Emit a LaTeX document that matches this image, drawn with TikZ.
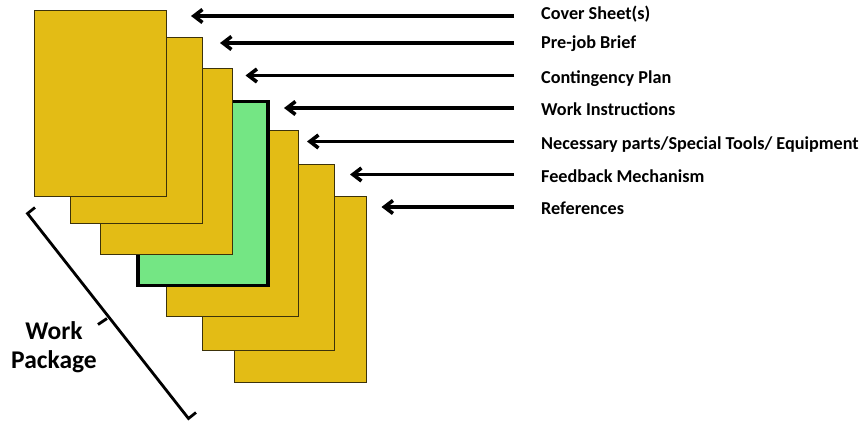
\documentclass[tikz,border=0pt]{standalone}
\usepackage{fontspec}
\setmainfont{Carlito}
\usetikzlibrary{arrows.meta,calc}
\definecolor{pageyellow}{RGB}{227,188,21}
\definecolor{pagegreen}{RGB}{116,230,132}
\definecolor{pageedge}{RGB}{60,50,10}
\tikzset{
  page/.style={draw=pageedge, line width=1.2pt, fill=pageyellow, minimum width=132pt, minimum height=186pt, inner sep=0pt, anchor=north west},
  greenpage/.style={page, draw=black, line width=3.5pt, fill=pagegreen, minimum width=130pt, minimum height=184pt},
  lbl/.style={font=\bfseries\fontsize{18.2pt}{21pt}\selectfont, anchor=base west, inner sep=0pt},
  pointer/.style={line width=3.6pt, -{Straight Barb[length=8.5pt,width=13pt]}},
  brace/.style={line width=2.8pt}
}
\begin{document}
\begin{tikzpicture}[x=1pt,y=-1pt]
\useasboundingbox (0,0) rectangle (865,423);
% pages, back to front
\node[page] (p7) at (234,196) {};
\node[page] (p6) at (201.5,163.5) {};
\node[page] (p5) at (166,130) {};
\node[greenpage] (p4) at (136,99.5) {};
\node[page] (p3) at (100,68) {};
\node[page] (p2) at (69.5,37) {};
\node[page] (p1) at (33.5,9.5) {};
% labels
\node[lbl] (l1) at (541,19.3) {Cover Sheet(s)};
\node[lbl] (l2) at (541,48.3) {Pre-job Brief};
\node[lbl] (l3) at (541,83.3) {Contingency Plan};
\node[lbl] (l4) at (541,115.5) {Work Instructions};
\node[lbl] (l5) at (541,149.5) {Necessary parts/Special Tools/ Equipment};
\node[lbl] (l6) at (541,182) {Feedback Mechanism};
\node[lbl] (l7) at (541,214.7) {References};
% arrow tails and tips
\coordinate (s1) at (514,16);   \coordinate (t1) at (191,16);
\coordinate (s2) at (514,43);   \coordinate (t2) at (220,43);
\coordinate (s3) at (514,75.5); \coordinate (t3) at (245.5,75.5);
\coordinate (s4) at (514,108);  \coordinate (t4) at (284,108);
\coordinate (s5) at (514,141.5);\coordinate (t5) at (307,141.5);
\coordinate (s6) at (514,174.5);\coordinate (t6) at (350,174.5);
\coordinate (s7) at (514,207);  \coordinate (t7) at (381.5,207);
\foreach \i in {1,...,7} { \draw[pointer] (s\i) -- (t\i); }
% bracket
\coordinate (b1) at (27.5,213.5);
\coordinate (b2) at (188.5,418.5);
\coordinate (bm) at (107,318.5);
\draw[brace] ($(b1)+(7.5,-6)$) -- (b1) -- (b2) -- ($(b2)+(7.5,-6)$);
\draw[brace] (bm) -- ($(bm)+(-9,6)$);
\node[font=\bfseries\fontsize{25.5pt}{29pt}\selectfont, align=center, inner sep=0pt] (wp) at (54,347) {Work\\Package};
\end{tikzpicture}
\end{document}
